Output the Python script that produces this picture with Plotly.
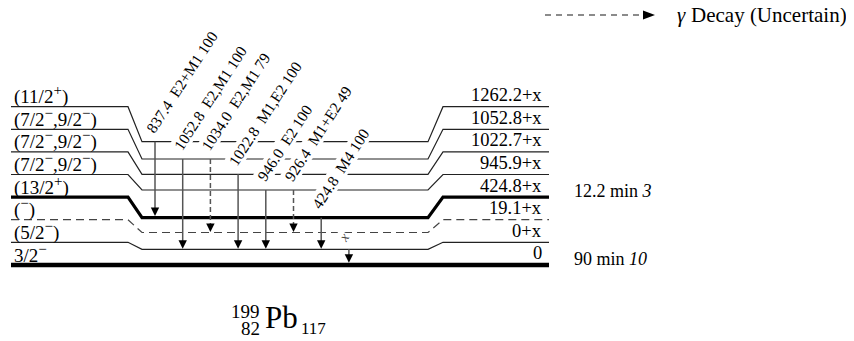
import plotly.graph_objects as go

# ---------------- data ----------------
level_energy = ["1262.2+x", "1052.8+x", "1022.7+x", "945.9+x", "424.8+x", "19.1+x", "0+x", "0"]
level_spin = ["(11/2^+)", "(7/2^−,9/2^−)", "(7/2^−,9/2^−)", "(7/2^−,9/2^−)",
              "(13/2^+)", "(^−)", "(5/2^−)", "3/2^−"]
level_kind = ["normal", "normal", "normal", "normal", "isomer", "tentative", "normal", "ground"]
halflife_level = [4, 7]
halflife_value = ["12.2 min", "90 min"]
halflife_unc = ["3", "10"]

gamma_energy = ["837.4", "1052.8", "1034.0", "1022.8", "946.0", "926.4", "424.8", "x"]
gamma_mult = ["E2+M1", "E2,M1", "E2,M1", "M1,E2", "E2", "M1+E2", "M4", ""]
gamma_intensity = ["100", "100", "79", "100", "100", "49", "100", ""]
gamma_from = [0, 1, 1, 2, 3, 3, 4, 6]
gamma_to = [4, 6, 5, 6, 6, 5, 6, 7]
gamma_uncertain = [False, False, True, False, False, True, False, False]

nuc_A, nuc_Z, nuc_N, nuc_sym = "199", "82", "117", "Pb"
legend_symbol = "<i>γ</i>"
legend_text = "Decay (Uncertain)"

# ---------------- layout constants ----------------
PAGE_W, PAGE_H = 854, 341
OFF = 8  # page body margin
W, H = PAGE_W - OFF, PAGE_H - OFF
SIDE_Y0, SIDE_DY = 106.7, 22.6
MID_Y = [141.7, 159.0, 174.3, 190.0, 217.7, 232.5, 249.3, 265.0]
XL0, XL1, XM0, XM1, XR0, XR1 = 11, 128, 142, 428, 443, 549
ARROW_X0, ARROW_DX = 155, 27.7
FONT = "Liberation Serif, Times New Roman, serif"

STYLE = {
    "normal": dict(width=1.2, dash="solid", color="#222"),
    "isomer": dict(width=3.2, dash="solid", color="#000"),
    "tentative": dict(width=1.2, dash="8px,5px", color="#444"),
    "ground": dict(width=4.5, dash="solid", color="#000"),
}


def spin_html(s):
    # "^+" / "^−" -> superscript sign
    out = ""
    i = 0
    while i < len(s):
        if s[i] == "^":
            out += f"<sup><span style='font-size:15px'>{s[i + 1]}</span></sup>"
            i += 2
        else:
            out += s[i]
            i += 1
    return out


fig = go.Figure()
shapes = []
ann = []

side_y = [SIDE_Y0 + i * SIDE_DY for i in range(len(level_energy))]

# level lines
for i, kind in enumerate(level_kind):
    st = STYLE[kind]
    ys, ym = side_y[i], MID_Y[i]
    fig.add_trace(go.Scatter(
        x=[XL0, XL1, XM0, XM1, XR0, XR1],
        y=[ys, ys, ym, ym, ys, ys],
        mode="lines", line=dict(color=st["color"], width=st["width"], dash=st["dash"]),
        hoverinfo="skip", showlegend=False))
    ann.append(dict(x=XL0 + 1, y=ys - 11.5, text=spin_html(level_spin[i]), xanchor="left", yanchor="middle",
                    showarrow=False, font=dict(size=19, family=FONT, color="black")))
    ann.append(dict(x=XR1 - 5, y=ys - 11.5, text=level_energy[i], xanchor="right", yanchor="middle",
                    showarrow=False, font=dict(size=18.5, family=FONT, color="black")))

for lv, hv, hu in zip(halflife_level, halflife_value, halflife_unc):
    ann.append(dict(x=572, y=side_y[lv] - 6, text=f"{hv} <i>{hu}</i>", xanchor="left", yanchor="middle",
                    showarrow=False, font=dict(size=18, family=FONT, color="black")))

# transitions
HEAD_L, HEAD_W = 8.5, 4.2
for k in range(len(gamma_energy)):
    x = ARROW_X0 + k * ARROW_DX
    y0 = MID_Y[gamma_from[k]]
    kind_to = level_kind[gamma_to[k]]
    tip = MID_Y[gamma_to[k]] - STYLE[kind_to]["width"] / 2
    dash = "5px,3px" if gamma_uncertain[k] else "solid"
    fig.add_trace(go.Scatter(x=[x, x], y=[y0, tip - HEAD_L + 1], mode="lines",
                             line=dict(color="#555", width=1.5, dash=dash),
                             hoverinfo="skip", showlegend=False))
    shapes.append(dict(type="path", xref="x", yref="y",
                       path=f"M {x - HEAD_W} {tip - HEAD_L} L {x + HEAD_W} {tip - HEAD_L} L {x} {tip} Z",
                       fillcolor="black", line=dict(width=0)))
    if gamma_mult[k]:
        txt = f"{gamma_energy[k]}  {gamma_mult[k]} {gamma_intensity[k]}"
        ann.append(dict(x=x - 14, y=y0 - 4.5, text=txt, textangle=-57, xanchor="left", yanchor="bottom",
                        showarrow=False, bgcolor="white", borderpad=0,
                        font=dict(size=15.5, family=FONT, color="black")))
    else:
        ann.append(dict(x=x - 5, y=y0 - 12, text=f"<i>{gamma_energy[k]}</i>", textangle=-57,
                        xanchor="center", yanchor="middle", showarrow=False, bgcolor="white",
                        borderpad=0, font=dict(size=14, family=FONT, color="#444")))

# legend
fig.add_trace(go.Scatter(x=[545, 645], y=[15, 15], mode="lines",
                         line=dict(color="#666", width=1.5, dash="6px,5px"),
                         hoverinfo="skip", showlegend=False))
shapes.append(dict(type="path", xref="x", yref="y", path="M 643 10.5 L 655 15 L 643 19.5 Z",
                   fillcolor="black", line=dict(width=0)))
ann.append(dict(x=675, y=15, text=legend_symbol, xanchor="left", yanchor="middle", showarrow=False,
                font=dict(size=21, family=FONT, color="black")))
ann.append(dict(x=849, y=15, text=legend_text, xanchor="right", yanchor="middle", showarrow=False,
                font=dict(size=21, family=FONT, color="black")))

# nuclide label
ann.append(dict(x=262, y=311, text=nuc_A, xanchor="right", yanchor="middle", showarrow=False,
                font=dict(size=19, family=FONT, color="black")))
ann.append(dict(x=262, y=328, text=nuc_Z, xanchor="right", yanchor="middle", showarrow=False,
                font=dict(size=19, family=FONT, color="black")))
ann.append(dict(x=263, y=317, text=nuc_sym, xanchor="left", yanchor="middle", showarrow=False,
                font=dict(size=31, family=FONT, color="black")))
ann.append(dict(x=299, y=328, text=nuc_N, xanchor="left", yanchor="middle", showarrow=False,
                font=dict(size=17, family=FONT, color="black")))

fig.update_layout(
    width=W, height=H, margin=dict(l=0, r=0, t=0, b=0),
    paper_bgcolor="white", plot_bgcolor="white",
    xaxis=dict(range=[OFF, PAGE_W], visible=False, fixedrange=True),
    yaxis=dict(range=[PAGE_H, OFF], visible=False, fixedrange=True),
    shapes=shapes, annotations=ann, showlegend=False,
)
fig.write_html("out.html")
